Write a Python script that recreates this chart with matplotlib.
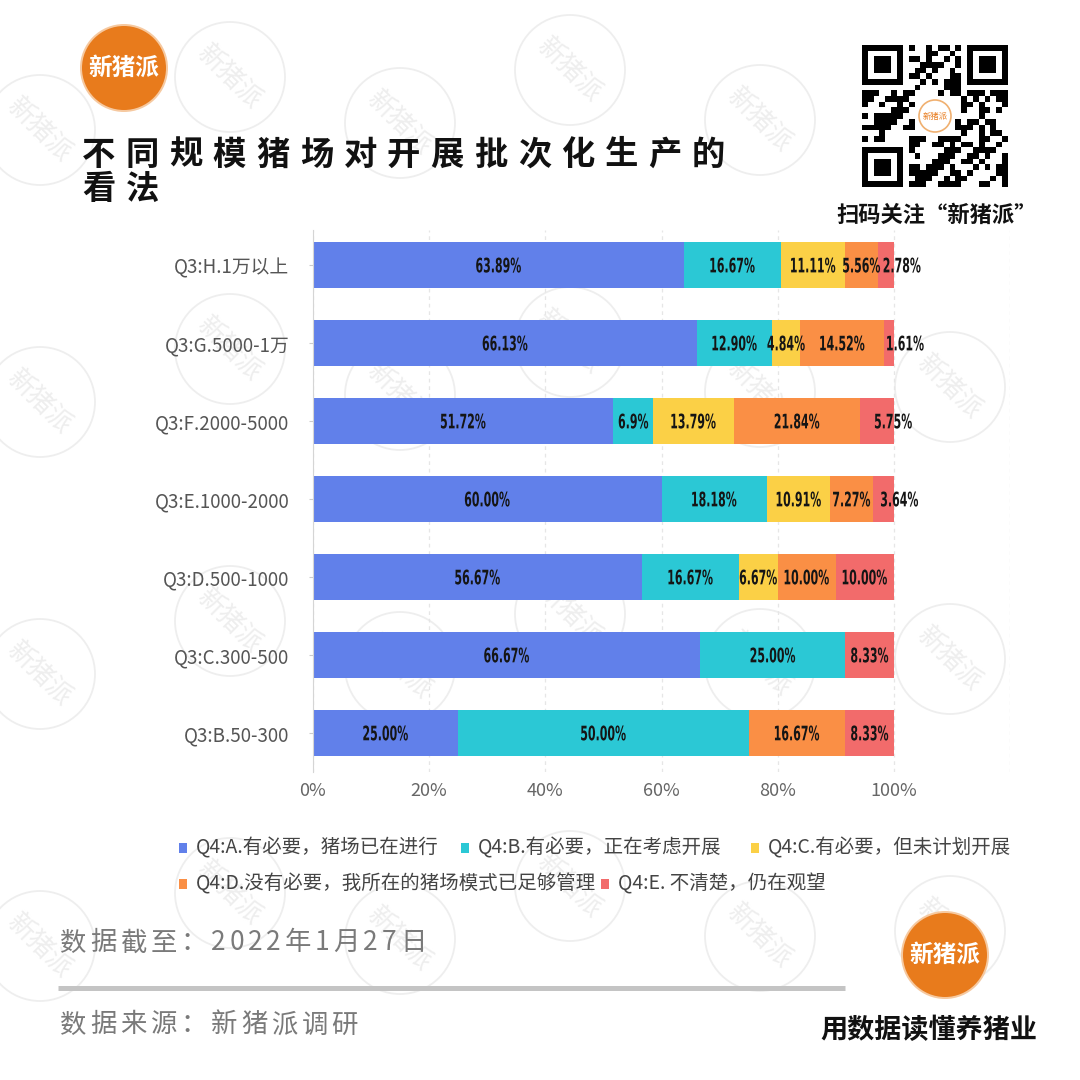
import numpy as np
import matplotlib
matplotlib.use("Agg")
import matplotlib.pyplot as plt
import matplotlib.transforms as mtransforms
from matplotlib.patches import Circle, Rectangle, PathPatch
from matplotlib.textpath import TextPath
from matplotlib.font_manager import FontProperties

plt.rcParams["font.family"] = ["Noto Sans CJK SC", "DejaVu Sans"]

# data (bottom row first)
categories = ["Q3:B.50-300", "Q3:C.300-500", "Q3:D.500-1000", "Q3:E.1000-2000",
              "Q3:F.2000-5000", "Q3:G.5000-1万", "Q3:H.1万以上"]
series_names = ["Q4:A.有必要，猪场已在进行", "Q4:B.有必要，正在考虑开展",
                "Q4:C.有必要，但未计划开展", "Q4:D.没有必要，我所在的猪场模式已足够管理",
                "Q4:E. 不清楚，仍在观望"]
a_vals = ["25.00", "66.67", "56.67", "60.00", "51.72", "66.13", "63.89"]
b_vals = ["50.00", "25.00", "16.67", "18.18", "6.9", "12.90", "16.67"]
c_vals = ["0", "0", "6.67", "10.91", "13.79", "4.84", "11.11"]
d_vals = ["16.67", "0", "10.00", "7.27", "21.84", "14.52", "5.56"]
e_vals = ["8.33", "8.33", "10.00", "3.64", "5.75", "1.61", "2.78"]
x_ticks = [0, 20, 40, 60, 80, 100, 120]
x_tick_labels = ["0%", "20%", "40%", "60%", "80%", "100%", ""]

colors = ["#6180ea", "#2bc8d5", "#fbd046", "#fa8f45", "#f26b6b"]
ORANGE = "#e87b1c"

fig = plt.figure(figsize=(10.8, 10.8), dpi=100)
fig.patch.set_facecolor("white")

# background layer in pixel coordinates for the decorations
bg = fig.add_axes([0, 0, 1, 1], zorder=0)
bg.set_xlim(0, 1080)
bg.set_ylim(1080, 0)
bg.axis("off")
renderer = fig.canvas.get_renderer()


def spaced_text(x, y, s, track, **kw):
    for ch in s:
        t = bg.text(x, y, ch, ha="left", **kw)
        x += t.get_window_extent(renderer).width + track
    return x


def logo(cx, cy, r, fs):
    bg.add_patch(Circle((cx, cy), r + 2, facecolor="#f6c9a0", edgecolor="none", zorder=3))
    bg.add_patch(Circle((cx, cy), r, facecolor=ORANGE, edgecolor="none", zorder=3))
    bg.text(cx, cy, "新猪派", ha="center", va="center", color="white",
            fontsize=fs, fontweight="bold", zorder=4)


# condensed bold label, drawn as a squeezed text path
LABEL_FP = FontProperties(family="DejaVu Sans", weight="bold")


def narrow_label(axis, x, y, s, size=20, squeeze=0.55):
    tp = TextPath((0, 0), s, size=size, prop=LABEL_FP)
    ext = tp.get_extents()
    shape = mtransforms.Affine2D().translate(-(ext.x0 + ext.x1) / 2, -(ext.y0 + ext.y1) / 2)
    shape = shape.scale(squeeze, 1.0)
    trans = shape + mtransforms.ScaledTranslation(x, y, axis.transData)
    axis.add_patch(PathPatch(tp, transform=trans, facecolor="#151515",
                             edgecolor="none", zorder=3, clip_on=False))


# watermarks
wm_cols = [40, 230, 400, 570, 760, 950]
wm_offs = [130, 77, 123, 70, 120, 115]
for wx, wo in zip(wm_cols, wm_offs):
    for k in range(4):
        wy = wo + 272 * k
        bg.add_patch(Circle((wx, wy), 55, fill=False, edgecolor="#eeeeee", lw=1.3, zorder=0))
        bg.text(wx, wy, "新猪派", rotation=-45, ha="center", va="center",
                color="#eeeeee", fontsize=19, zorder=0)

# header
logo(124, 68, 42, 17)
spaced_text(82, 155, "不同规模猪场对开展批次化生产的", 10.2, va="center",
            fontsize=24, fontweight="bold", color="#111111", zorder=3)
spaced_text(82, 190, "看法", 10.2, va="center",
            fontsize=24, fontweight="bold", color="#111111", zorder=3)

# qr code block
seed = ("新猪派 用数据读懂养猪业 扫码关注 " * 12).encode("utf-8")
bits = np.unpackbits(np.frombuffer(seed, dtype=np.uint8))[:625].reshape(25, 25).astype(float)
for (r0, c0) in [(0, 0), (0, 18), (18, 0)]:
    bits[max(r0 - 1, 0):r0 + 8, max(c0 - 1, 0):c0 + 8] = 0
    bits[r0:r0 + 7, c0:c0 + 7] = 1
    bits[r0 + 1:r0 + 6, c0 + 1:c0 + 6] = 0
    bits[r0 + 2:r0 + 5, c0 + 2:c0 + 5] = 1
bits[9:16, 9:16] = 0
bg.imshow(1 - bits, cmap="gray", vmin=0, vmax=1, extent=(862, 1008, 187, 45),
          interpolation="nearest", zorder=3, aspect="auto")
bg.add_patch(Circle((935, 116), 16, facecolor="white", edgecolor="#f0b070", lw=1.2, zorder=4))
bg.text(935, 116, "新猪派", ha="center", va="center", color=ORANGE, fontsize=6, zorder=5)
bg.text(937, 215, "扫码关注“新猪派”", ha="center", va="center", fontsize=16,
        fontweight="bold", color="#111111", zorder=3)

# chart
ax = fig.add_axes([313 / 1080, 1 - 772 / 1080, 697 / 1080, 542 / 1080], zorder=1)
ax.set_facecolor("none")
series = [np.array([float(v) for v in s]) for s in (a_vals, b_vals, c_vals, d_vals, e_vals)]
texts = [a_vals, b_vals, c_vals, d_vals, e_vals]
ypos = np.arange(len(categories))
left = np.zeros(len(categories))
for vals, txt, col, name in zip(series, texts, colors, series_names):
    ax.barh(ypos, vals, left=left, height=0.59, color=col, label=name, zorder=2)
    for y, v, t, l in zip(ypos, vals, txt, left):
        if v <= 0:
            continue
        cx = l + v / 2
        if v < 6 and l + v > 99.9:
            cx += 2.8
        narrow_label(ax, cx, y, t + "%")
    left = left + vals

ax.set_xlim(0, 120)
ax.set_ylim(-0.5, 6.45)
ax.set_yticks(ypos, categories, fontsize=13.5, color="#555555")
ax.set_xticks(x_ticks, x_tick_labels, fontsize=13, color="#666666")
ax.tick_params(axis="y", length=3, color="#cccccc", pad=14)
ax.tick_params(axis="x", length=0, pad=7)
ax.grid(axis="x", linestyle=(0, (3, 3)), color="#e6e6e6", lw=0.9, zorder=0)
for side in ["top", "right", "bottom"]:
    ax.spines[side].set_visible(False)
ax.spines["left"].set_color("#d5d5d5")

# legend (flowing layout like the original)
legend_rows = [[(0, 183), (1, 465), (2, 755)], [(3, 183), (4, 605)]]
for row_y, row in zip([848, 884], legend_rows):
    for idx, lx in row:
        bg.add_patch(Rectangle((lx - 4, row_y - 5), 8, 10, facecolor=colors[idx],
                               edgecolor="none", zorder=3))
        bg.text(lx + 13, row_y, series_names[idx], ha="left", va="center",
                fontsize=14, color="#444444", zorder=3)

# footer
spaced_text(60, 943, "数据截至：2022年1月27日", 3.8, va="center", fontsize=19,
            fontweight="light", color="#7a7a7a", zorder=3)
bg.plot([58, 845], [988, 988], color="#c4c4c4", lw=3.6, solid_capstyle="butt", zorder=3)
spaced_text(60, 1025, "数据来源：新猪派调研", 3.8, va="center", fontsize=19,
            fontweight="light", color="#7a7a7a", zorder=3)
logo(945, 955, 42, 17)
bg.text(929, 1030, "用数据读懂养猪业", ha="center", va="center", fontsize=19.5,
        fontweight="bold", color="#111111", zorder=3)

fig.savefig("out.png", dpi=100, facecolor="white")
